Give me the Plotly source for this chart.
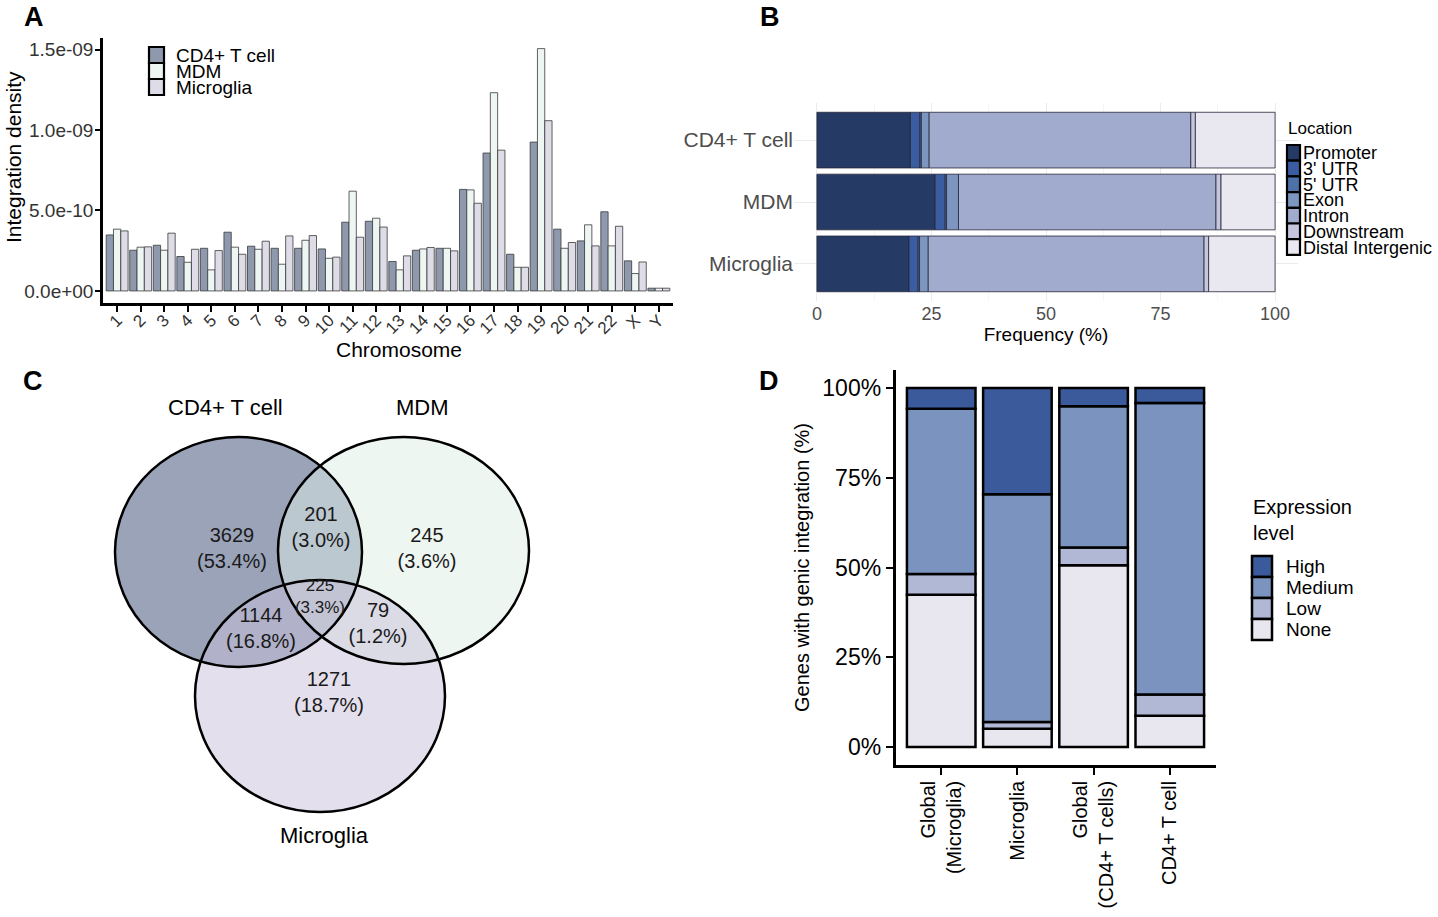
import numpy as np
import plotly.graph_objects as go

W, H = 1438, 917
FONT = "Liberation Sans, Arial, Helvetica, sans-serif"

# ---------------- Panel A data ----------------
chromosomes = [str(i) for i in range(1, 23)] + ["X", "Y"]
dens_cd4 = [3.48e-10, 2.53e-10, 2.84e-10, 2.14e-10, 2.65e-10, 3.65e-10, 2.78e-10, 2.65e-10,
            2.65e-10, 2.61e-10, 4.27e-10, 4.33e-10, 1.83e-10, 2.53e-10, 2.65e-10, 6.31e-10,
            8.57e-10, 2.28e-10, 9.25e-10, 3.84e-10, 3.11e-10, 4.92e-10, 1.87e-10, 0.17e-10]
dens_mdm = [3.84e-10, 2.72e-10, 2.53e-10, 1.78e-10, 1.31e-10, 2.72e-10, 2.59e-10, 1.66e-10,
            3.15e-10, 2.03e-10, 6.20e-10, 4.52e-10, 1.31e-10, 2.61e-10, 2.65e-10, 6.28e-10,
            12.32e-10, 1.47e-10, 15.06e-10, 2.65e-10, 4.11e-10, 2.80e-10, 1.08e-10, 0.17e-10]
dens_micro = [3.73e-10, 2.74e-10, 3.59e-10, 2.59e-10, 2.51e-10, 2.28e-10, 3.09e-10, 3.42e-10,
              3.44e-10, 2.10e-10, 3.34e-10, 3.97e-10, 2.18e-10, 2.70e-10, 2.49e-10, 5.45e-10,
              8.75e-10, 1.47e-10, 10.58e-10, 3.01e-10, 2.80e-10, 4.02e-10, 1.80e-10, 0.17e-10]
a_series = ["CD4+ T cell", "MDM", "Microglia"]
a_colors = ["#8e99ae", "#eef6f3", "#dddce7"]
a_yticks = [0, 5e-10, 1e-9, 1.5e-9]
a_yticklabels = ["0.0e+00", "5.0e-10", "1.0e-09", "1.5e-09"]

# ---------------- Panel B data ----------------
b_cells = ["CD4+ T cell", "MDM", "Microglia"]
locations = ["Promoter", "3' UTR", "5' UTR", "Exon", "Intron", "Downstream", "Distal Intergenic"]
loc_promoter = [20.4, 25.8, 20.1]
loc_utr3 = [2.1, 2.2, 2.0]
loc_utr5 = [0.3, 0.3, 0.3]
loc_exon = [1.7, 2.6, 1.9]
loc_intron = [57.1, 56.2, 60.2]
loc_downstream = [1.0, 1.1, 1.0]
loc_distal = [17.4, 11.8, 14.5]
b_colors = ["#253a64", "#3b5ca0", "#4d72aa", "#7d96c0", "#a1abcd", "#c6c7df", "#e9e8f1"]
b_xticks = [0, 25, 50, 75, 100]

# ---------------- Panel C data ----------------
venn_sets = ["CD4+ T cell", "MDM", "Microglia"]
venn_regions = ["CD4 only", "CD4&MDM", "MDM only", "all", "CD4&Micro", "MDM&Micro", "Micro only"]
venn_counts = [3629, 201, 245, 225, 1144, 79, 1271]

# ---------------- Panel D data ----------------
d_groups = ["Global<br>(Microglia)", "Microglia", "Global<br>(CD4+ T cells)", "CD4+ T cell"]
expr_levels = ["None", "Low", "Medium", "High"]
expr_none = [42.4, 5.1, 50.6, 8.7]
expr_low = [5.8, 1.9, 5.0, 5.9]
expr_medium = [46.0, 63.4, 39.3, 81.2]
expr_high = [5.8, 29.6, 5.1, 4.2]
d_colors = {"None": "#e8e7f0", "Low": "#b1b8d6", "Medium": "#7a94bf", "High": "#3a5a9c"}
d_yticks = [0, 25, 50, 75, 100]
d_yticklabels = ["0%", "25%", "50%", "75%", "100%"]


def px(x):
    return x / W


def py(y):
    return 1 - y / H


fig = go.Figure()

# ---------- Panel A: grouped bars ----------
bw = 0.31
offsets = [-1.5 * bw, -0.5 * bw, 0.5 * bw]
for name, vals, col, off in zip(a_series, [dens_cd4, dens_mdm, dens_micro], a_colors, offsets):
    fig.add_trace(go.Bar(
        x=chromosomes, y=vals, name=name, width=bw, offset=off,
        marker=dict(color=col, line=dict(color="#3a3a3a", width=0.8)),
        xaxis="x", yaxis="y", showlegend=False))

# ---------- Panel B: stacked horizontal bars ----------
b_vals = [loc_promoter, loc_utr3, loc_utr5, loc_exon, loc_intron, loc_downstream, loc_distal]
b_base = np.vstack([np.zeros(3), np.cumsum(np.array(b_vals), axis=0)[:-1]])
for i, (loc, vals) in enumerate(zip(locations, b_vals)):
    fig.add_trace(go.Bar(
        y=b_cells, x=vals, base=b_base[i], orientation="h", name=loc,
        width=0.9, offset=-0.45,
        marker=dict(color=b_colors[i], line=dict(color="#26263a", width=0.8)),
        xaxis="x2", yaxis="y2", showlegend=False))

# ---------- Panel D: stacked bars ----------
d_vals = [expr_none, expr_low, expr_medium, expr_high]
d_base = np.vstack([np.zeros(4), np.cumsum(np.array(d_vals), axis=0)[:-1]])
for i, (lvl, vals) in enumerate(zip(expr_levels, d_vals)):
    fig.add_trace(go.Bar(
        x=d_groups, y=vals, base=d_base[i], name=lvl,
        width=0.9, offset=-0.45,
        marker=dict(color=d_colors[lvl], line=dict(color="#000000", width=2.5)),
        xaxis="x4", yaxis="y4", showlegend=False))

# ---------- Panel C: Venn ----------
total = sum(venn_counts)
venn_text = ["%d<br>(%.1f%%)" % (c, 100.0 * c / total) for c in venn_counts]
# label anchor positions in the panel's pixel frame (layout)
venn_lx = [232, 321, 427, 320, 261, 378, 329]
venn_ly = [550, 529, 550, 598, 630, 625, 694]
venn_fs = [20, 20, 20, 17, 20, 20, 20]
circles = [  # ellipse bounding boxes in panel pixel frame, fill (rgba)
    dict(x0=115, x1=362, y0=437, y1=667, fill="rgba(55,71,115,0.5)"),
    dict(x0=278, x1=529, y0=437, y1=664, fill="rgba(221,237,229,0.5)"),
    dict(x0=195, x1=445, y0=580, y1=812, fill="rgba(199,191,217,0.5)"),
]
fig.add_trace(go.Scatter(
    x=venn_lx, y=venn_ly, mode="text", text=venn_text,
    textfont=dict(family=FONT, size=venn_fs, color="#1a1a1a"),
    xaxis="x3", yaxis="y3", showlegend=False, hoverinfo="skip"))

shapes = []
for c in circles:  # fills first
    shapes.append(dict(type="circle", xref="x3", yref="y3", x0=c["x0"], x1=c["x1"],
                       y0=c["y0"], y1=c["y1"], fillcolor=c["fill"],
                       line=dict(width=0), layer="below"))
for c in circles:  # outlines on top of all fills
    shapes.append(dict(type="circle", xref="x3", yref="y3", x0=c["x0"], x1=c["x1"],
                       y0=c["y0"], y1=c["y1"], fillcolor="rgba(0,0,0,0)",
                       line=dict(color="black", width=2.5), layer="below"))

annotations = []
set_pos = [(225, 407), (422, 407), (324, 835)]
for name, (sx, sy) in zip(venn_sets, set_pos):
    annotations.append(dict(xref="x3", yref="y3", x=sx, y=sy, text=name, showarrow=False,
                            xanchor="center", yanchor="middle",
                            font=dict(family=FONT, size=22, color="black")))

# ---------- Panel labels ----------
for lab, (lx, ly) in zip(["A", "B", "C", "D"], [(34, 17), (770, 17), (33, 381), (769, 381)]):
    annotations.append(dict(xref="paper", yref="paper", x=px(lx), y=py(ly), text="<b>%s</b>" % lab,
                            xanchor="center", yanchor="middle",
                            showarrow=False, font=dict(family=FONT, size=27, color="black")))

# ---------- Axis titles for panel A ----------
annotations.append(dict(xref="paper", yref="paper", x=px(399), y=py(349), text="Chromosome",
                        xanchor="center", yanchor="middle",
                        showarrow=False, font=dict(family=FONT, size=21, color="black")))
annotations.append(dict(xref="paper", yref="paper", x=px(13), y=py(157), text="Integration density",
                        xanchor="center", yanchor="middle", textangle=-90,
                        showarrow=False, font=dict(family=FONT, size=21, color="black")))

# ---------- Custom legends ----------
# A
for i, (name, col) in enumerate(zip(a_series, a_colors)):
    y0 = 47 + 16 * i
    shapes.append(dict(type="rect", xref="paper", yref="paper", x0=px(149), x1=px(164),
                       y0=py(y0), y1=py(y0 + 16), fillcolor=col, line=dict(color="black", width=2.2)))
    annotations.append(dict(xref="paper", yref="paper", x=px(174), y=py(y0 + 8), text=name,
                            xanchor="left", yanchor="middle", showarrow=False,
                            font=dict(family=FONT, size=19, color="black")))
# B
annotations.append(dict(xref="paper", yref="paper", x=px(1286), y=py(129), text="Location",
                        xanchor="left", yanchor="middle", showarrow=False,
                        font=dict(family=FONT, size=17, color="black")))
kh = 15.7
for i, (loc, col) in enumerate(zip(locations, b_colors)):
    y0 = 145 + kh * i
    shapes.append(dict(type="rect", xref="paper", yref="paper", x0=px(1287), x1=px(1300),
                       y0=py(y0), y1=py(y0 + kh), fillcolor=col, line=dict(color="black", width=2.2)))
    annotations.append(dict(xref="paper", yref="paper", x=px(1301), y=py(y0 + kh / 2 + 0.5), text=loc,
                            xanchor="left", yanchor="middle", showarrow=False,
                            font=dict(family=FONT, size=18, color="black")))
# D
annotations.append(dict(xref="paper", yref="paper", x=px(1251), y=py(520), text="Expression<br>level",
                        xanchor="left", yanchor="middle", align="left", showarrow=False,
                        font=dict(family=FONT, size=20, color="black")))
for i, lvl in enumerate(["High", "Medium", "Low", "None"]):
    y0 = 556 + 21 * i
    shapes.append(dict(type="rect", xref="paper", yref="paper", x0=px(1252), x1=px(1272),
                       y0=py(y0), y1=py(y0 + 21), fillcolor=d_colors[lvl], line=dict(color="black", width=2.5)))
    annotations.append(dict(xref="paper", yref="paper", x=px(1284), y=py(y0 + 10.5), text=lvl,
                            xanchor="left", yanchor="middle", showarrow=False,
                            font=dict(family=FONT, size=19, color="black")))

fig.update_layout(
    width=W, height=H, margin=dict(l=0, r=0, t=0, b=0),
    paper_bgcolor="white", plot_bgcolor="rgba(0,0,0,0)",
    font=dict(family=FONT, color="black"),
    barmode="group", showlegend=False,
    shapes=shapes, annotations=annotations,
    # Panel A
    xaxis=dict(domain=[px(103), px(673)], range=[-0.6, 23.6], type="category",
               showline=True, linecolor="black", linewidth=2.5, ticks="outside", ticklen=6,
               tickwidth=1.5, tickcolor="black", tickangle=-45, ticklabelstandoff=-8,
               tickfont=dict(size=17, color="#333333"), showgrid=False, zeroline=False,
               anchor="y", automargin=False),
    yaxis=dict(domain=[py(303), py(38)], range=[-0.75e-10, 15.72e-10],
               tickvals=a_yticks, ticktext=a_yticklabels, ticklabelstandoff=-2,
               showline=True, linecolor="black", linewidth=2.5, ticks="outside", ticklen=5,
               tickwidth=1.5, tickcolor="black", tickfont=dict(size=19, color="#333333"),
               showgrid=False, zeroline=False,
               anchor="x", automargin=False),
    # Panel B
    xaxis2=dict(domain=[px(794), px(1298)], range=[-5, 105], tickvals=b_xticks,
                showline=False, ticks="", tickfont=dict(size=18, color="#4d4d4d"),
                showgrid=True, gridcolor="#ebebeb", gridwidth=1,
                minor=dict(showgrid=True, gridcolor="#f5f5f5", dtick=12.5, tick0=12.5),
                zeroline=False,
                title=dict(text="Frequency (%)", font=dict(size=19, color="black"), standoff=4),
                anchor="y2", automargin=False),
    yaxis2=dict(domain=[py(301), py(103)], range=[2.6, -0.6], type="category",
                categoryorder="array", categoryarray=b_cells,
                showline=False, ticks="", tickfont=dict(size=21, color="#4d4d4d"),
                showgrid=True, gridcolor="#ebebeb", gridwidth=1, zeroline=False,
                anchor="x2", automargin=False),
    # Panel C
    xaxis3=dict(domain=[0, 0.5], range=[0, 0.5 * W], visible=False, anchor="y3", fixedrange=True),
    yaxis3=dict(domain=[0, 0.6], range=[H, H - 0.6 * H], visible=False, anchor="x3", fixedrange=True),
    # Panel D
    xaxis4=dict(domain=[px(895.5), px(1215.5)], range=[-0.6, 3.6], type="category",
                showline=True, linecolor="black", linewidth=2.5, ticks="outside", ticklen=7,
                tickwidth=2, tickcolor="black", tickangle=-90, ticklabelstandoff=-2,
                tickfont=dict(size=20, color="black"), showgrid=False, zeroline=False,
                anchor="y4", automargin=False),
    yaxis4=dict(domain=[py(765), py(370)], range=[-5, 105], tickvals=d_yticks, ticktext=d_yticklabels,
                showline=True, linecolor="black", linewidth=2.5, ticks="outside", ticklen=7,
                tickwidth=2, tickcolor="black", tickfont=dict(size=23, color="black"),
                showgrid=False, zeroline=False,
                title=dict(text="Genes with genic integration (%)", font=dict(size=20, color="black"),
                           standoff=8),
                anchor="x4", automargin=False),
)

fig.write_html("out.html", config={"displayModeBar": False},
               post_script="document.body.style.margin='0';document.body.style.overflow='hidden';")
